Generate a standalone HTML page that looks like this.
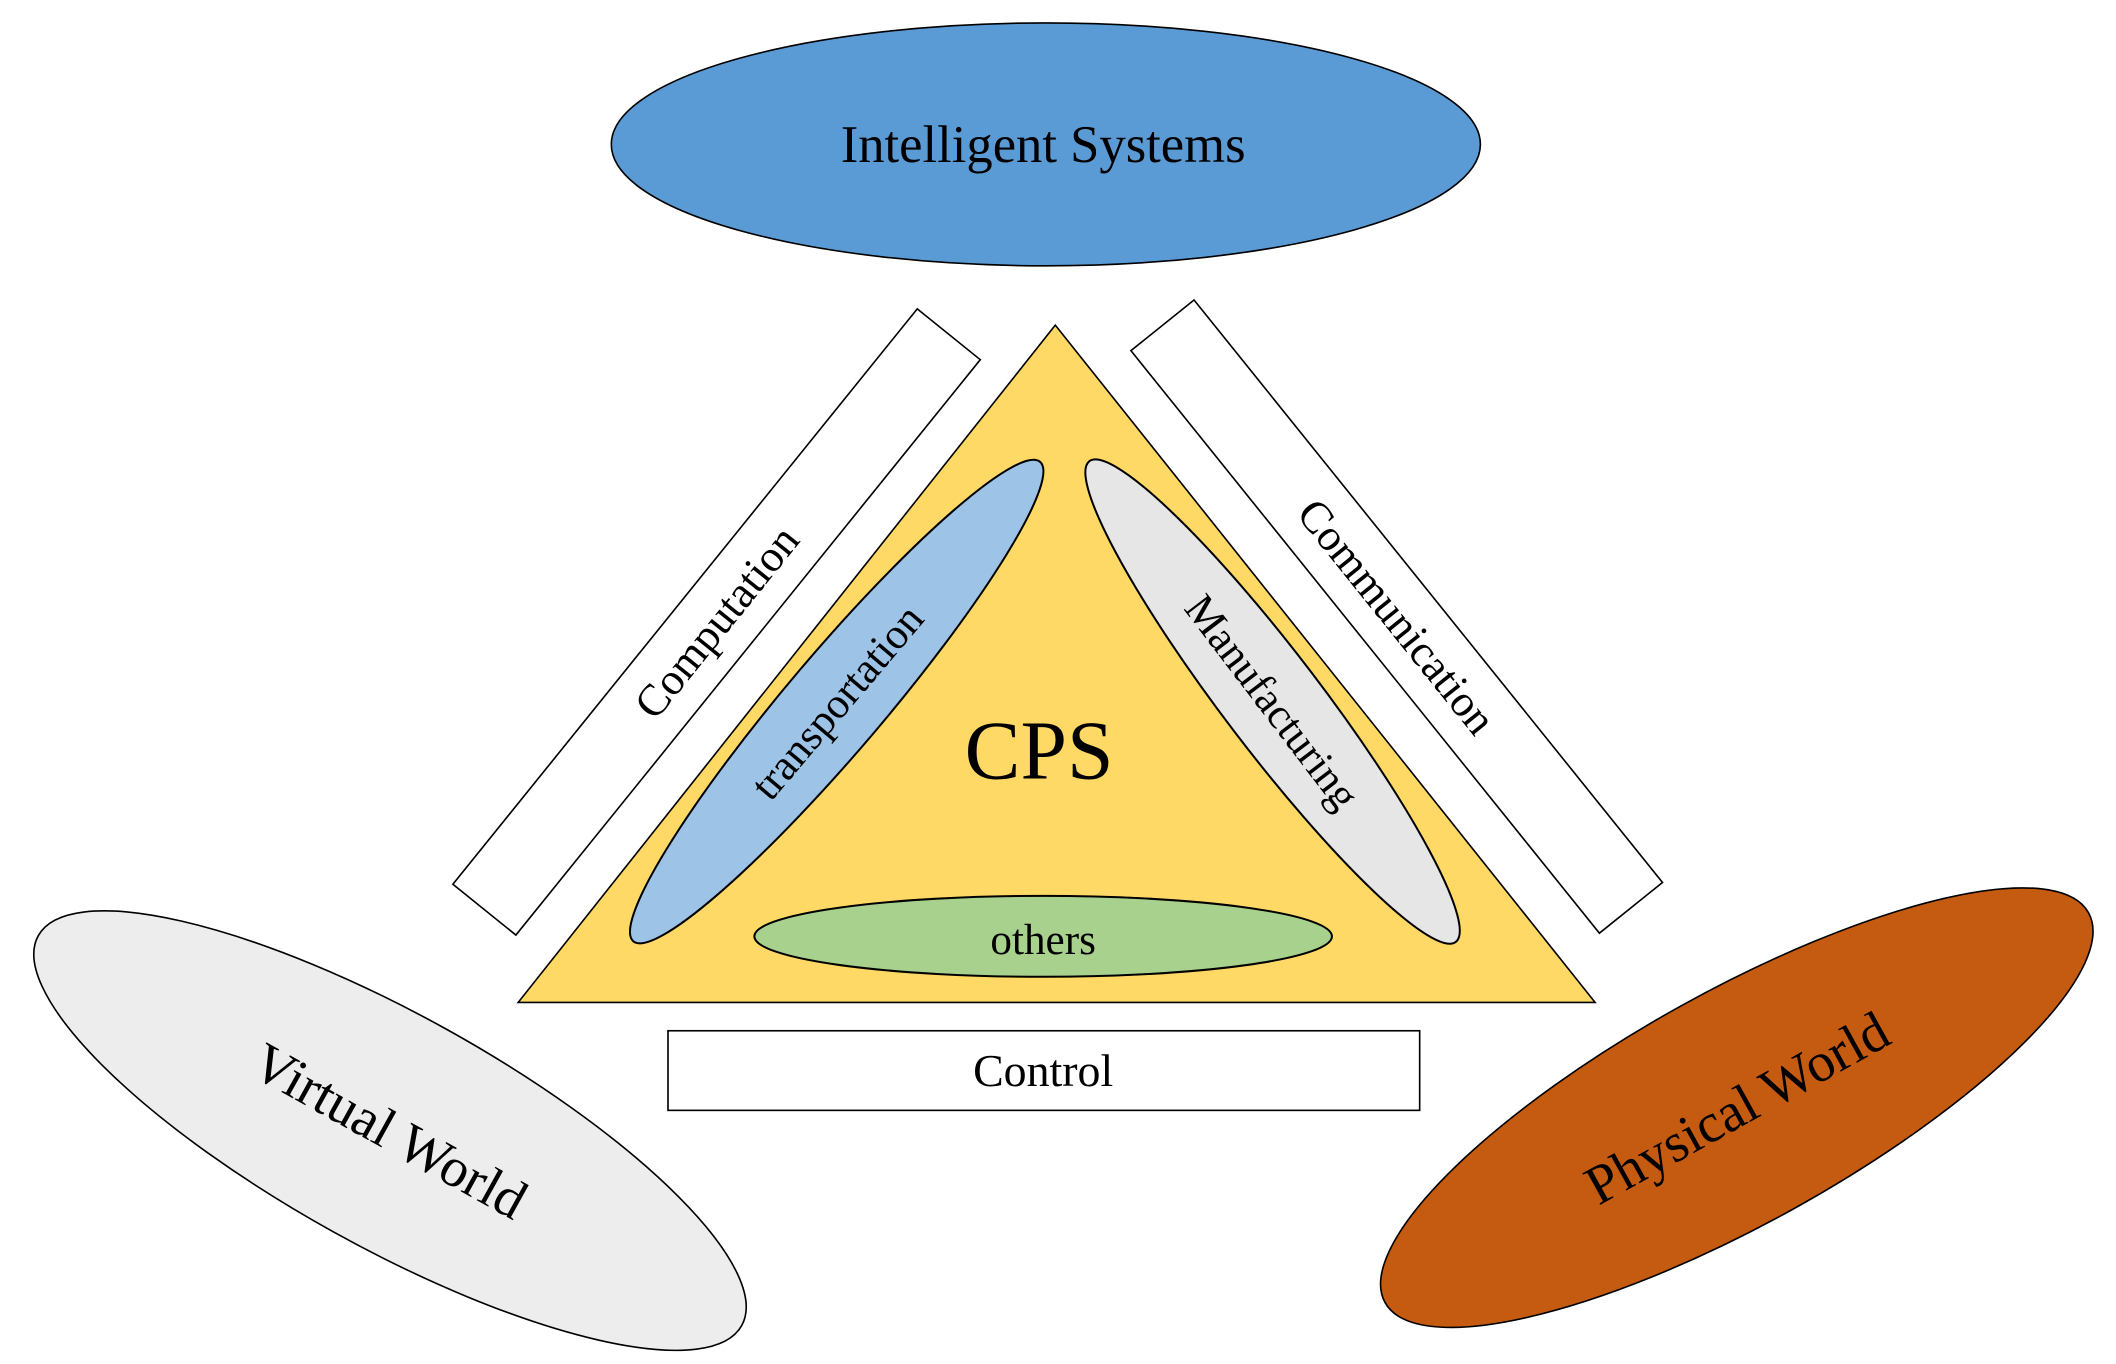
<!DOCTYPE html>
<html><head><meta charset="utf-8"><style>
html,body{margin:0;padding:0;background:#fff;}
svg{display:block;}
text{font-family:"Liberation Serif",serif;fill:#000;}
</style></head><body>
<svg width="2116" height="1364" viewBox="0 0 1568 1011" preserveAspectRatio="none" xmlns="http://www.w3.org/2000/svg">
<ellipse cx="775" cy="107" rx="322" ry="90" fill="#5b9bd5" stroke="#000" stroke-width="1.2"/>
<text x="773" y="120" font-size="39" text-anchor="middle">Intelligent Systems</text>

<g transform="translate(531,461) rotate(-51.1)">
<rect x="-274" y="-30" width="548" height="60" fill="#fff" stroke="#000" stroke-width="1.2"/>
<text x="0" y="11" font-size="33" text-anchor="middle">Computation</text>
</g>
<g transform="translate(1035,457) rotate(51.2)">
<rect x="-277" y="-30" width="554" height="60" fill="#fff" stroke="#000" stroke-width="1.2"/>
<text x="0" y="11" font-size="33" text-anchor="middle">Communication</text>
</g>

<polygon points="782,241 384,743 1182,743" fill="#ffd966" stroke="#000" stroke-width="1.2"/>

<g transform="translate(620,520) rotate(-49.7)">
<ellipse cx="0" cy="0" rx="233" ry="36" fill="#9dc3e6" stroke="#000" stroke-width="1.5"/>
<text x="0" y="11" font-size="32" text-anchor="middle">transportation</text>
</g>
<g transform="translate(943,520) rotate(52.7)">
<ellipse cx="0" cy="0" rx="224" ry="36" fill="#e7e6e6" stroke="#000" stroke-width="1.5"/>
<text x="0" y="11" font-size="32" text-anchor="middle">Manufacturing</text>
</g>
<ellipse cx="773" cy="694" rx="214" ry="30" fill="#a9d18e" stroke="#000" stroke-width="1.5"/>
<text x="773" y="707" font-size="32" text-anchor="middle">others</text>

<text x="770" y="577" font-size="62" text-anchor="middle">CPS</text>

<rect x="495" y="764" width="557" height="59" fill="#fff" stroke="#000" stroke-width="1.2"/>
<text x="773" y="805" font-size="34" text-anchor="middle">Control</text>

<g transform="translate(289,838) rotate(29)">
<ellipse cx="0" cy="0" rx="298" ry="86" fill="#ededed" stroke="#000" stroke-width="1.2"/>
<text x="0" y="14" font-size="41" text-anchor="middle">Virtual World</text>
</g>
<g transform="translate(1287,821) rotate(-29)">
<ellipse cx="0" cy="0" rx="298" ry="86" fill="#c55a11" stroke="#000" stroke-width="1.2"/>
<text x="0" y="14" font-size="41" text-anchor="middle">Physical World</text>
</g>
</svg>
</body></html>
